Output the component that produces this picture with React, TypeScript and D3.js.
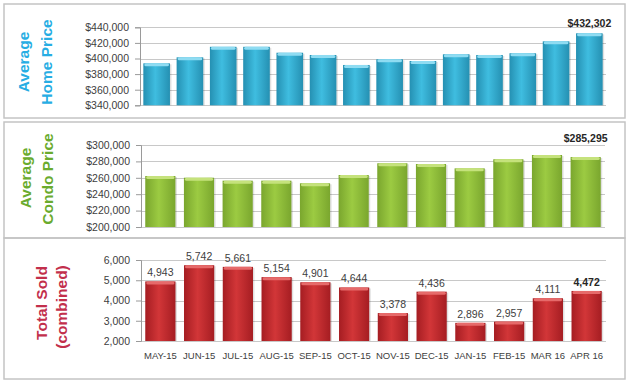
import React, { useEffect, useRef } from 'react';
import * as d3 from 'd3';

// values
const homePrices = [393800, 401500, 415000, 415000, 407400, 404500, 391700, 399000, 396800, 405400, 404500, 406700, 422000, 432302];
const condoPrices = [262200, 260100, 256500, 256500, 253300, 263400, 277700, 276800, 271500, 282600, 287800, 285295];
const totalSold = [4943, 5742, 5661, 5154, 4901, 4644, 3378, 4436, 2896, 2957, 4111, 4472];
const months = ['MAY-15', 'JUN-15', 'JUL-15', 'AUG-15', 'SEP-15', 'OCT-15', 'NOV-15', 'DEC-15', 'JAN-15', 'FEB-15', 'MAR 16', 'APR 16'];
const homeTicks = [340000, 360000, 380000, 400000, 420000, 440000];
const condoTicks = [200000, 220000, 240000, 260000, 280000, 300000];
const soldTicks = [2000, 3000, 4000, 5000, 6000];

const FONT = '"Liberation Sans", Arial, sans-serif';
const W = 630;
const H = 384;

const money = d3.format('$,');
const count = d3.format(',');

const App = () => {
  const svgRef = useRef();

  useEffect(() => {
    document.body.style.margin = '0';
    const svg = d3.select(svgRef.current)
      .attr('width', W)
      .attr('height', H);

    svg.selectAll('*').remove();
    const defs = svg.append('defs');

    // gradients for the bevelled bars
    const makeGrad = (id, edge, mid) => {
      const g = defs.append('linearGradient').attr('id', id)
        .attr('x1', 0).attr('x2', 1).attr('y1', 0).attr('y2', 0);
      g.append('stop').attr('offset', '0%').attr('stop-color', edge);
      g.append('stop').attr('offset', '45%').attr('stop-color', mid);
      g.append('stop').attr('offset', '100%').attr('stop-color', edge);
    };
    makeGrad('blueBar', '#2590b2', '#3fbde0');
    makeGrad('greenBar', '#7aa62e', '#9ccb42');
    makeGrad('redBar', '#a51d22', '#d23638');

    svg.append('rect').attr('width', W).attr('height', H).attr('fill', '#ffffff');

    // panel frames
    const frames = [[4, 4, 625, 118], [4, 122, 625, 238], [4, 238, 625, 379]];
    frames.forEach(([x0, y0, x1, y1]) => {
      svg.append('rect')
        .attr('x', x0).attr('y', y0)
        .attr('width', x1 - x0).attr('height', y1 - y0)
        .attr('fill', 'none')
        .attr('stroke', '#c4c4c4')
        .attr('stroke-width', 1.5);
    });

    const drawPanel = (opt) => {
      const { values, ticks, x0, x1, yTop, yBot, fmt, grad, top, titles, titleColor, allLabels, labelOffset, xLabels, pad } = opt;
      const x = d3.scaleBand()
        .domain(values.map((d, i) => i))
        .range([x0, x1])
        .paddingInner(pad)
        .paddingOuter(pad / 2);
      const y = d3.scaleLinear()
        .domain([ticks[0], ticks[ticks.length - 1]])
        .range([yBot, yTop]);

      const g = svg.append('g');

      // gridlines
      g.selectAll('line.grid')
        .data(ticks)
        .enter().append('line')
        .attr('x1', x0).attr('x2', x1)
        .attr('y1', d => Math.round(y(d)) + 0.5)
        .attr('y2', d => Math.round(y(d)) + 0.5)
        .attr('stroke', '#c8c8c8')
        .attr('stroke-width', 1);

      // y axis
      const axis = g.append('g')
        .attr('transform', `translate(${x0},0)`)
        .call(d3.axisLeft(y).tickValues(ticks).tickFormat(fmt).tickSize(5).tickPadding(6));
      axis.select('.domain').attr('stroke', '#9a9a9a');
      axis.selectAll('.tick line').attr('stroke', '#9a9a9a');
      axis.selectAll('.tick text')
        .attr('font-family', FONT)
        .attr('font-size', 10.5)
        .attr('fill', '#404040');

      // bars
      const bars = g.selectAll('g.bar')
        .data(values)
        .enter().append('g');
      bars.append('rect')
        .attr('x', (d, i) => x(i) + 1.5)
        .attr('y', d => y(d) + 1)
        .attr('width', x.bandwidth())
        .attr('height', d => yBot - y(d) - 1)
        .attr('fill', 'rgba(0,0,0,0.12)');
      bars.append('rect')
        .attr('x', (d, i) => x(i))
        .attr('y', d => y(d))
        .attr('width', x.bandwidth())
        .attr('height', d => yBot - y(d))
        .attr('fill', `url(#${grad})`);
      bars.append('rect')
        .attr('x', (d, i) => x(i) + 1)
        .attr('y', d => y(d))
        .attr('width', x.bandwidth() - 2)
        .attr('height', 3)
        .attr('rx', 1.5)
        .attr('fill', top);

      // data labels
      values.forEach((v, i) => {
        const last = i === values.length - 1;
        if (!allLabels && !last) return;
        g.append('text')
          .attr('x', x(i) + x.bandwidth() / 2)
          .attr('y', opt.lastAtTop && last ? yTop - 3 : y(v) - labelOffset)
          .attr('text-anchor', 'middle')
          .attr('font-family', FONT)
          .attr('font-size', 10.5)
          .attr('font-weight', last ? 'bold' : 'normal')
          .attr('fill', last ? '#262626' : '#404040')
          .text(fmt(v));
      });

      // month labels
      if (xLabels) {
        g.selectAll('text.month')
          .data(xLabels)
          .enter().append('text')
          .attr('x', (d, i) => x(i) + x.bandwidth() / 2)
          .attr('y', yBot + 18)
          .attr('text-anchor', 'middle')
          .attr('font-family', FONT)
          .attr('font-size', 9.5)
          .attr('fill', '#404040')
          .text(d => d);
      }

      // rotated panel titles
      titles.forEach(([txt, bx, cy]) => {
        svg.append('text')
          .attr('transform', `translate(${bx},${cy}) rotate(-90)`)
          .attr('text-anchor', 'middle')
          .attr('font-family', FONT)
          .attr('font-size', 15.5)
          .attr('font-weight', 'bold')
          .attr('fill', titleColor)
          .text(txt);
      });
    };

    drawPanel({
      values: homePrices, ticks: homeTicks,
      x0: 140, x1: 606, yTop: 27.3, yBot: 105.3,
      fmt: money, grad: 'blueBar', top: '#8fdcf2', pad: 0.2,
      titles: [['Average', 29, 62], ['Home Price', 52, 62]],
      titleColor: '#27ade3', allLabels: false, labelOffset: 6,
    });

    drawPanel({
      values: condoPrices, ticks: condoTicks,
      x0: 141, x1: 605, yTop: 145, yBot: 227,
      fmt: money, grad: 'greenBar', top: '#c5e27c', pad: 0.22,
      titles: [['Average', 31, 178], ['Condo Price', 53, 179]],
      titleColor: '#6aab2e', allLabels: false, labelOffset: 6, lastAtTop: true,
    });

    drawPanel({
      values: totalSold, ticks: soldTicks,
      x0: 141, x1: 606, yTop: 260, yBot: 341,
      fmt: count, grad: 'redBar', top: '#e66a6a', pad: 0.22,
      titles: [['Total Sold', 47, 303], ['(combined)', 67, 307]],
      titleColor: '#c22f4c', allLabels: true, labelOffset: 5, xLabels: months,
    });
  }, []);

  return (
    <svg ref={svgRef} style={{ display: 'block' }}></svg>
  );
};

export default App;
